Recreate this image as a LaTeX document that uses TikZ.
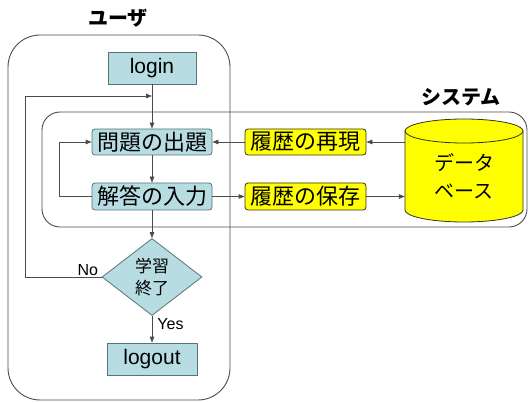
\documentclass[tikz,border=0pt]{standalone}
\usepackage{fontspec}
\setmainfont{Liberation Sans}
\newfontfamily\jp{Noto Sans CJK JP}
\usetikzlibrary{arrows.meta,shapes.geometric,calc}
\definecolor{lblue}{RGB}{183,221,227}
\definecolor{bblue}{RGB}{85,115,120}
\definecolor{ybox}{RGB}{255,255,0}
\definecolor{yedge}{RGB}{50,50,30}
\definecolor{lnc}{RGB}{75,75,75}
\begin{document}
\begin{tikzpicture}[x=1pt,y=-1pt,
  flow/.style={draw=lnc, line width=0.8pt, -{Triangle[length=6pt,width=4.5pt]}},
  plain/.style={draw=lnc, line width=0.8pt},
  frame/.style={draw=black!70, line width=0.9pt},
  latbox/.style={draw=bblue, fill=lblue, line width=0.8pt, inner sep=0pt, font=\fontsize{21}{24}\selectfont},
  bluebox/.style={draw=bblue, fill=lblue, line width=0.8pt, inner sep=0pt, rounded corners=3pt, minimum width=120pt, font=\jp\fontsize{22}{26}\selectfont},
  yelbox/.style={draw=yedge, fill=ybox, line width=0.8pt, inner sep=0pt, rounded corners=3pt, minimum width=121pt, font=\jp\fontsize{22}{26}\selectfont},
  title/.style={font=\jp\bfseries\fontsize{20}{24}\selectfont, inner sep=0pt},
  lab/.style={font=\fontsize{16}{18}\selectfont, inner sep=1pt}
]
\useasboundingbox (0,0) rectangle (530,403);
% frames
\draw[frame, rounded corners=32pt] (8,35) rectangle (230,400);
\node[title] (user) at (118,18) {ユーザ};
\draw[frame, rounded corners=18pt] (42,112) rectangle (527,227);
\node[title] (sys) at (461,97) {システム};
% nodes
\node[latbox, minimum width=88pt, minimum height=32pt] (login) at (152,68) {login};
\node[bluebox, minimum height=26pt] (q) at (152,142) {問題の出題};
\node[bluebox, minimum height=27pt] (a) at (152,196.5) {解答の入力};
\node[yelbox, minimum height=26pt] (r1) at (305.5,142) {履歴の再現};
\node[yelbox, minimum height=27pt] (r2) at (305.5,196.5) {履歴の保存};
\node[diamond, draw=bblue, fill=lblue, line width=0.8pt, inner sep=0pt, minimum width=100pt, minimum height=77pt] (d) at (152,277) {};
\node[font=\jp\fontsize{17}{22}\selectfont, align=center, inner sep=0pt] (dt) at (d.center) {学習\\終了};
\node[latbox, minimum width=90pt, minimum height=32pt] (logout) at (152,359) {logout};
% database cylinder
\draw[draw=yedge, fill=ybox, line width=0.8pt] (405,131) -- (405,210) arc[start angle=180, end angle=360, x radius=59pt, y radius=12pt] -- (523,131) -- cycle;
\draw[draw=yedge, fill=ybox, line width=0.8pt] (464,131) ellipse[x radius=59pt, y radius=12pt];
\node[minimum width=118pt, minimum height=103pt, inner sep=0pt] (db) at (464,170.5) {};
\node[font=\jp\fontsize{20}{28}\selectfont, align=center, inner sep=0pt] (dbt) at (464,176) {データ\\ベース};
% connectors
\draw[flow] (login.south) -- (q.north);
\draw[flow] (q.south) -- (a.north);
\draw[flow] (a.south) -- (d.north);
\draw[flow] (d.south) -- (logout.north) node[lab, pos=0.3, anchor=west, xshift=4pt] {Yes};
\draw[flow] (db.west |- r1.east) -- (r1.east);
\draw[flow] (r1.west) -- (q.east);
\draw[flow] (a.east) -- (r2.west);
\draw[flow] (r2.east) -- (db.west |- r2.east);
\coordinate (lp) at (25,96);
\draw[flow] (d.west) -- (d.west -| lp) node[lab, pos=0.18, above] {No} -- (lp) -- (lp -| login.south);
\coordinate (il) at (59,170);
\draw[flow] (a.west) -- (a.west -| il) -- (il |- q.west) -- (q.west);
\end{tikzpicture}
\end{document}
